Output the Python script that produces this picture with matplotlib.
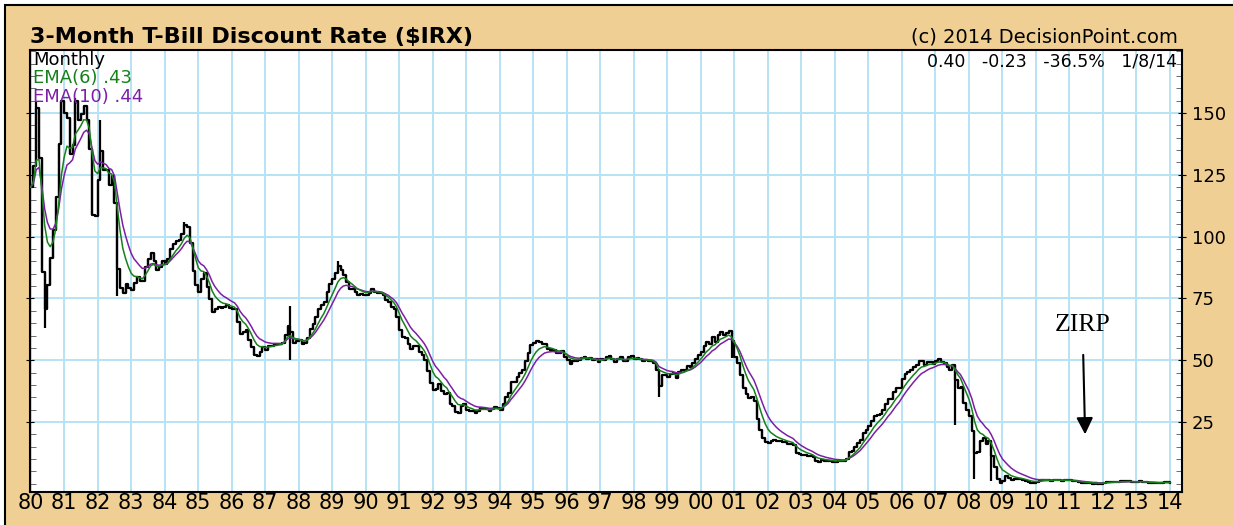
import numpy as np
import pandas as pd
import matplotlib
matplotlib.use("Agg")
import matplotlib.pyplot as plt
from matplotlib.patches import Rectangle
from matplotlib.ticker import MultipleLocator

# monthly 3-month T-bill discount rate, percent (chart quotes $IRX as rate x10)
rates = {
    1980: [12.00, 12.86, 15.20, 13.20, 8.58, 7.07, 8.06, 9.13, 10.27, 11.62, 13.73, 15.49],
    1981: [15.02, 14.79, 13.36, 13.69, 15.50, 14.73, 14.95, 15.30, 14.70, 13.54, 10.86, 10.85],
    1982: [12.28, 13.48, 12.68, 12.70, 12.09, 12.47, 11.35, 8.68, 7.92, 7.71, 8.07, 7.94],
    1983: [7.86, 8.11, 8.35, 8.21, 8.19, 8.79, 9.08, 9.34, 9.00, 8.64, 8.76, 9.00],
    1984: [8.90, 9.09, 9.52, 9.69, 9.83, 9.87, 10.12, 10.47, 10.37, 9.74, 8.61, 8.06],
    1985: [7.76, 8.27, 8.52, 7.95, 7.48, 6.95, 7.08, 7.14, 7.10, 7.16, 7.24, 7.10],
    1986: [7.07, 7.06, 6.56, 6.06, 6.15, 6.21, 5.83, 5.53, 5.21, 5.18, 5.35, 5.53],
    1987: [5.43, 5.59, 5.59, 5.64, 5.66, 5.67, 5.69, 6.04, 6.40, 6.13, 5.69, 5.77],
    1988: [5.81, 5.66, 5.70, 5.91, 6.26, 6.46, 6.73, 7.06, 7.24, 7.35, 7.76, 8.07],
    1989: [8.27, 8.53, 8.82, 8.65, 8.43, 8.15, 7.88, 7.90, 7.75, 7.64, 7.69, 7.63],
    1990: [7.64, 7.74, 7.90, 7.77, 7.74, 7.73, 7.62, 7.45, 7.36, 7.17, 7.06, 6.74],
    1991: [6.22, 5.94, 5.91, 5.65, 5.46, 5.57, 5.58, 5.33, 5.22, 4.99, 4.56, 4.07],
    1992: [3.80, 3.84, 4.04, 3.75, 3.63, 3.66, 3.21, 3.13, 2.91, 2.86, 3.13, 3.22],
    1993: [3.00, 2.93, 2.95, 2.87, 2.96, 3.07, 3.04, 3.02, 2.95, 3.02, 3.10, 3.06],
    1994: [2.98, 3.25, 3.50, 3.68, 4.14, 4.14, 4.33, 4.48, 4.62, 4.95, 5.29, 5.60],
    1995: [5.71, 5.77, 5.73, 5.65, 5.67, 5.47, 5.42, 5.40, 5.28, 5.28, 5.36, 5.14],
    1996: [5.00, 4.83, 4.96, 4.95, 5.02, 5.09, 5.15, 5.05, 5.09, 4.99, 5.03, 4.91],
    1997: [5.03, 5.01, 5.14, 5.16, 5.05, 4.93, 5.05, 5.14, 4.95, 4.97, 5.14, 5.16],
    1998: [5.04, 5.09, 5.03, 4.95, 5.00, 4.98, 4.96, 4.90, 4.61, 3.96, 4.41, 4.39],
    1999: [4.34, 4.45, 4.48, 4.28, 4.51, 4.59, 4.60, 4.76, 4.73, 4.88, 5.07, 5.23],
    2000: [5.34, 5.57, 5.72, 5.67, 5.92, 5.74, 6.03, 6.13, 6.01, 6.11, 6.17, 5.77],
    2001: [5.15, 4.88, 4.42, 3.87, 3.62, 3.49, 3.51, 3.36, 2.64, 2.16, 1.87, 1.69],
    2002: [1.65, 1.73, 1.79, 1.72, 1.73, 1.70, 1.68, 1.62, 1.63, 1.58, 1.23, 1.19],
    2003: [1.17, 1.17, 1.13, 1.13, 1.07, 0.92, 0.90, 0.95, 0.94, 0.92, 0.93, 0.90],
    2004: [0.88, 0.93, 0.94, 0.94, 1.02, 1.27, 1.33, 1.48, 1.65, 1.76, 2.07, 2.19],
    2005: [2.33, 2.54, 2.74, 2.78, 2.84, 2.97, 3.22, 3.44, 3.42, 3.71, 3.88, 3.89],
    2006: [4.24, 4.43, 4.51, 4.60, 4.72, 4.79, 4.95, 4.96, 4.81, 4.92, 4.94, 4.85],
    2007: [4.98, 5.03, 4.94, 4.87, 4.73, 4.61, 4.82, 4.20, 3.89, 3.90, 3.27, 3.00],
    2008: [2.75, 2.12, 1.26, 1.29, 1.73, 1.86, 1.63, 1.72, 1.13, 0.67, 0.19, 0.03],
    2009: [0.13, 0.30, 0.22, 0.16, 0.18, 0.18, 0.18, 0.17, 0.12, 0.07, 0.05, 0.05],
    2010: [0.06, 0.11, 0.15, 0.16, 0.16, 0.12, 0.16, 0.16, 0.15, 0.13, 0.14, 0.14],
    2011: [0.15, 0.13, 0.10, 0.06, 0.04, 0.04, 0.04, 0.02, 0.01, 0.02, 0.01, 0.01],
    2012: [0.03, 0.09, 0.08, 0.08, 0.09, 0.09, 0.10, 0.10, 0.11, 0.10, 0.09, 0.07],
    2013: [0.07, 0.10, 0.09, 0.06, 0.04, 0.05, 0.04, 0.04, 0.02, 0.05, 0.07, 0.063],
    2014: [0.040],
}

# intra-month extremes visible on the chart (year, month, value in chart units)
low_spikes = [(1980, 6, 63), (1982, 8, 76), (1987, 10, 50), (1998, 10, 35),
              (2000, 12, 51), (2007, 8, 24), (2008, 3, 2), (2008, 9, 1)]
high_spikes = [(1980, 3, 155), (1980, 12, 155), (1981, 5, 156), (1981, 8, 153),
               (1982, 2, 147), (1987, 10, 72), (1989, 3, 90), (1984, 8, 106)]

year_ticks = list(range(1980, 2015))
year_labels = ["%02d" % (y % 100) for y in year_ticks]

years = sorted(rates)
close = np.array(sum([rates[y] for y in years], [])) * 10
t = np.array([y + m / 12 for y in years for m in range(len(rates[y]))])

prev = np.r_[close[0], close[:-1]]
hi = np.maximum(prev, close)
lo = np.minimum(prev, close)
for y, m, v in low_spikes:
    i = (y - 1980) * 12 + m - 1
    lo[i] = min(lo[i], v)
for y, m, v in high_spikes:
    i = (y - 1980) * 12 + m - 1
    hi[i] = max(hi[i], v)

ema6 = pd.Series(close).ewm(span=6, adjust=False).mean()
ema10 = pd.Series(close).ewm(span=10, adjust=False).mean()

W, H = 1233, 525
tan = "#F0CF94"
green = "#17801A"
purple = "#7D1FA5"
fig = plt.figure(figsize=(W / 100, H / 100), dpi=100, facecolor="white")
bg = Rectangle((5 / W, -0.05), 1.1, 1.05 - 5 / H, transform=fig.transFigure,
               facecolor=tan, edgecolor="black", lw=1.5, zorder=-10)
fig.add_artist(bg)

ax = fig.add_axes([30 / W, 33 / H, 1152 / W, 442 / H])
ax.set_zorder(1)
ax.set_facecolor("white")
ax.set_xlim(1979.98, 2014.36)
ax.set_ylim(-3.3, 175.5)

ax.set_xticks(year_ticks)
ax.set_xticklabels(year_labels)
ax.yaxis.set_minor_locator(MultipleLocator(5))
ax.set_yticks([25, 50, 75, 100, 125, 150])
ax.grid(True, which="major", color="#B5E3F5", lw=1.4)
ax.set_axisbelow(True)
ax.tick_params(axis="x", length=0, pad=1, labelsize=15)
ax.tick_params(axis="y", which="both", left=True, right=True, labelleft=False,
               labelright=True, direction="in", labelsize=13, pad=4)
ax.tick_params(axis="y", which="minor", length=4, color="#555555")
ax.tick_params(axis="y", which="major", length=6, direction="inout")
for s in ax.spines.values():
    s.set_color("black")
    s.set_linewidth(1.5)

ax.vlines(t, lo, hi, color="black", lw=1.6, zorder=3)
ax.plot(t, close, color="black", lw=1.6, drawstyle="steps-post", zorder=3)
ax.plot(t, ema10, color=purple, lw=1.1, zorder=4)
ax.plot(t, ema6, color=green, lw=1.1, zorder=5)

# labels
fig.text(30 / W, 1 - 37 / H, "3-Month T-Bill Discount Rate ($IRX)", fontsize=16,
         fontweight="bold", va="center", ha="left")
fig.text(1178 / W, 1 - 37 / H, "(c) 2014 DecisionPoint.com", fontsize=14,
         va="center", ha="right")
fig.text(1177 / W, 1 - 62 / H, "0.40   -0.23   -36.5%   1/8/14", fontsize=12.5,
         va="center", ha="right", zorder=5)
fig.text(33 / W, 1 - 60 / H, "Monthly", fontsize=13, va="center", ha="left", zorder=5)
fig.text(33 / W, 1 - 78 / H, "EMA(6) .43", fontsize=13, va="center", ha="left",
         color=green, zorder=5)
fig.text(33 / W, 1 - 97 / H, "EMA(10) .44", fontsize=13, va="center", ha="left",
         color=purple, zorder=5)

ax.text(2011.38, 64.2, "ZIRP", family="Liberation Serif", fontsize=18.5,
        ha="center", va="center", zorder=6)
ax.annotate("", xy=(2011.47, 18.9), xytext=(2011.41, 53.3),
            arrowprops=dict(arrowstyle="-|>", color="black", lw=1.5, mutation_scale=25),
            zorder=6)

fig.savefig("out.png", dpi=100, facecolor=fig.get_facecolor())
